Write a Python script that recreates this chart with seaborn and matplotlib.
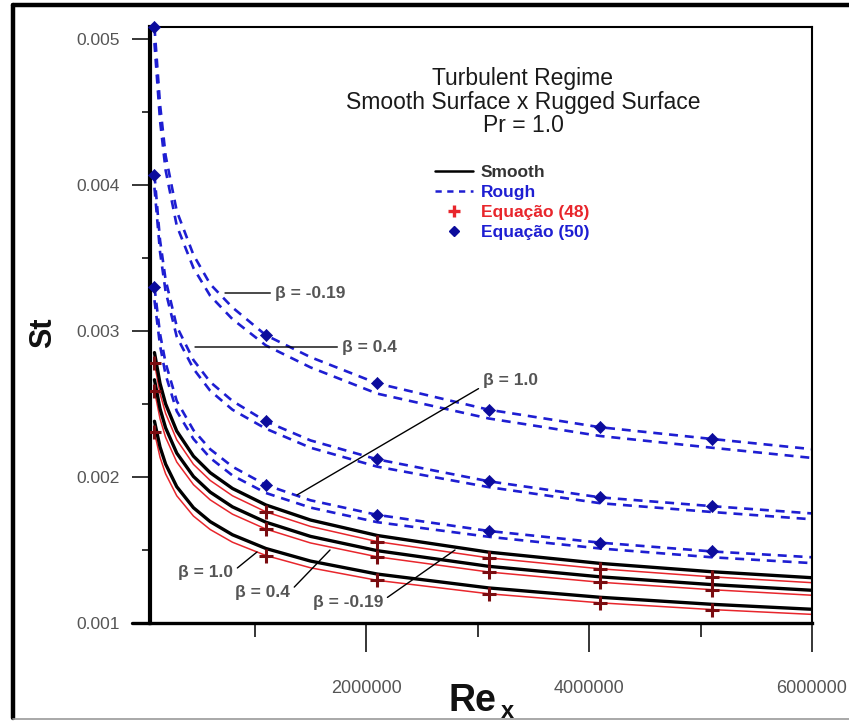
import matplotlib
matplotlib.use("Agg")
import matplotlib.pyplot as plt
import seaborn as sns
import pandas as pd
from matplotlib.lines import Line2D
from matplotlib.ticker import FixedLocator, FuncFormatter

# ---------------- data ----------------
re_x = [100000, 150000, 200000, 300000, 450000, 600000, 800000,
        1100000, 1500000, 2100000, 3100000, 4100000, 5100000, 6000000]
mark_idx = [0, 7, 9, 10, 11, 12]   # points carrying the equation markers

# rough surface (dashed blue), two curves per beta; "_eq" carries Eq.(50) diamonds
rough_m019_eq = [0.00508, 0.00455, 0.00420, 0.00382, 0.00352, 0.00332, 0.00316,
                 0.00297, 0.00282, 0.00264, 0.00246, 0.00234, 0.00226, 0.00219]
rough_m019 = [0.00497, 0.00444, 0.00410, 0.00372, 0.00343, 0.00324, 0.00308,
              0.00290, 0.00275, 0.00257, 0.00240, 0.00228, 0.00220, 0.00213]
rough_04_eq = [0.00407, 0.00362, 0.00335, 0.00303, 0.00280, 0.00265, 0.00252,
               0.00238, 0.00225, 0.00212, 0.00197, 0.00186, 0.00180, 0.00175]
rough_04 = [0.00398, 0.00354, 0.00327, 0.00296, 0.00274, 0.00259, 0.00246,
            0.00233, 0.00220, 0.00207, 0.00193, 0.00182, 0.00176, 0.00171]
rough_10_eq = [0.00330, 0.00298, 0.00278, 0.00252, 0.00232, 0.00219, 0.00207,
               0.001945, 0.00184, 0.00174, 0.00163, 0.00155, 0.00149, 0.00145]
rough_10 = [0.00321, 0.00290, 0.00270, 0.00245, 0.00226, 0.00213, 0.00201,
            0.00189, 0.00179, 0.00169, 0.00159, 0.00151, 0.00145, 0.00141]

# smooth surface (solid black) and Eq.(48) (thin red with + markers)
smooth_m019 = [0.002851, 0.002640, 0.002500, 0.002314, 0.002142, 0.002029, 0.001921,
               0.001808, 0.001705, 0.001599, 0.001485, 0.001408, 0.001351, 0.001310]
eq48_m019 = [0.002777, 0.002571, 0.002435, 0.002254, 0.002086, 0.001976, 0.001871,
             0.001761, 0.001661, 0.001557, 0.001446, 0.001371, 0.001316, 0.001276]
smooth_04 = [0.002665, 0.002467, 0.002336, 0.002163, 0.002003, 0.001896, 0.001795,
             0.001690, 0.001593, 0.001495, 0.001388, 0.001316, 0.001263, 0.001224]
eq48_04 = [0.002590, 0.002398, 0.002271, 0.002102, 0.001947, 0.001843, 0.001745,
           0.001643, 0.001548, 0.001453, 0.001349, 0.001279, 0.001228, 0.001190]
smooth_10 = [0.002381, 0.002205, 0.002088, 0.001933, 0.001789, 0.001694, 0.001604,
             0.001510, 0.001424, 0.001335, 0.001240, 0.001176, 0.001128, 0.001094]
eq48_10 = [0.002305, 0.002134, 0.002021, 0.001871, 0.001732, 0.001640, 0.001553,
           0.001462, 0.001378, 0.001292, 0.001200, 0.001138, 0.001092, 0.001059]

x_major = [2000000, 4000000, 6000000]
x_minor = [1000000, 3000000, 5000000]
y_major = [0.001, 0.002, 0.003, 0.004, 0.005]
y_minor = [0.0015, 0.0025, 0.0035, 0.0045]

title_lines = ["Turbulent Regime", "Smooth Surface x Rugged Surface", "Pr = 1.0"]
legend_labels = ["Smooth", "Rough", "Equação (48)", "Equação (50)"]

# ---------------- style ----------------
sns.set_style("white")
plt.rcParams['font.family'] = ['Liberation Sans', 'DejaVu Sans']

BLUE = '#1e1ed2'
DBLUE = '#0c0c9c'
RED = '#e8262c'
DRED = '#7a0c10'
GRAY = '#555555'

W, H = 849, 723
fig = plt.figure(figsize=(W / 100, H / 100), dpi=100)
ax_l, ax_r, ax_t, ax_b = 150, 812, 27, 623
ax = fig.add_axes([ax_l / W, 1 - ax_b / H, (ax_r - ax_l) / W, (ax_b - ax_t) / H])

def mk(vals, idx):
    return [re_x[i] for i in idx], [vals[i] for i in idx]

# rough curves
for eq_vals, r_vals in [(rough_m019_eq, rough_m019), (rough_04_eq, rough_04), (rough_10_eq, rough_10)]:
    for vals in (eq_vals, r_vals):
        sns.lineplot(x=re_x, y=vals, ax=ax, color=BLUE, lw=1.9, errorbar=None)
        ax.lines[-1].set_dashes([3.4, 2.6])
    xs, ys = mk(eq_vals, mark_idx)
    sns.scatterplot(x=xs, y=ys, ax=ax, marker='D', s=38, color=DBLUE,
                    edgecolor=DBLUE, zorder=5, clip_on=False)

# smooth curves
for s_vals, e_vals in [(smooth_m019, eq48_m019), (smooth_04, eq48_04), (smooth_10, eq48_10)]:
    sns.lineplot(x=re_x, y=e_vals, ax=ax, color=RED, lw=1.1, errorbar=None)
    sns.lineplot(x=re_x, y=s_vals, ax=ax, color='black', lw=2.4, errorbar=None)
    xs, ys = mk(e_vals, mark_idx)
    sns.scatterplot(x=xs, y=ys, ax=ax, marker='+', s=110, color=DRED,
                    linewidth=2.2, zorder=6)

ax.set_xlim(60000, 6000000)
ax.set_ylim(0.001, 0.00508)

# axes decoration
for side in ['top', 'right']:
    ax.spines[side].set_linewidth(1.5)
    ax.spines[side].set_color('black')
ax.spines['left'].set_linewidth(3.0)
ax.spines['bottom'].set_linewidth(2.4)
ax.spines['left'].set_color('black')
ax.spines['bottom'].set_color('black')

ax.xaxis.set_major_locator(FixedLocator(x_major))
ax.xaxis.set_minor_locator(FixedLocator(x_minor))
ax.yaxis.set_major_locator(FixedLocator(y_major))
ax.yaxis.set_minor_locator(FixedLocator(y_minor))
ax.xaxis.set_major_formatter(FuncFormatter(lambda v, p: f"{int(round(v))}"))
ax.yaxis.set_major_formatter(FuncFormatter(lambda v, p: f"{v:.3f}"))
ax.tick_params(axis='x', which='major', direction='out', length=21, width=1.1,
               pad=20, labelsize=13, labelcolor=GRAY, color='black', bottom=True)
ax.tick_params(axis='x', which='minor', direction='out', length=10, width=1.1,
               color='black', bottom=True)
ax.tick_params(axis='y', which='major', direction='out', length=13, width=1.1,
               pad=9, labelsize=12.5, labelcolor=GRAY, color='black', left=True)
ax.tick_params(axis='y', which='minor', direction='out', length=6, width=1.1,
               color='black', left=True)
ax.set_xlabel("")
ax.set_ylabel("")

# axis titles
fig.text(43 / W, 1 - 333 / H, "St", rotation=90, fontsize=22, fontweight='bold',
         ha='center', va='center', color='#111111')
fig.text(472 / W, 1 - 701 / H, "Re", fontsize=27, fontweight='bold',
         ha='center', va='center', color='#111111')
fig.text(507 / W, 1 - 712 / H, "x", fontsize=17, fontweight='bold',
         ha='center', va='center', color='#111111')

# title block
for i, line in enumerate(title_lines):
    fig.text(523 / W, 1 - (79 + 23 * i) / H, line, fontsize=16.5,
             ha='center', va='center', color='#1a1a1a')

# legend
handles = [
    Line2D([], [], color='black', lw=1.8),
    Line2D([], [], color=BLUE, lw=1.8, dashes=[2.5, 2.2]),
    Line2D([], [], color=RED, lw=0, marker='+', markersize=9, markeredgewidth=2.4),
    Line2D([], [], color=DBLUE, lw=0, marker='D', markersize=5.5),
]
leg_x = (435 - ax_l) / (ax_r - ax_l)
leg_y = 1 - (165 - ax_t) / (ax_b - ax_t)
leg = ax.legend(handles, legend_labels, loc='upper left', bbox_to_anchor=(leg_x, leg_y),
                frameon=False, borderpad=0, borderaxespad=0, handlelength=2.2,
                handletextpad=0.45, labelspacing=0.28,
                prop={'weight': 'bold', 'size': 12.5})
for t, c in zip(leg.get_texts(), ['#333333', BLUE, RED, BLUE]):
    t.set_color(c)

# beta annotations
def px2data(px, py):
    x = 60000 + (px - ax_l) / (ax_r - ax_l) * (6000000 - 60000)
    y = 0.001 + (ax_b - py) / (ax_b - ax_t) * (0.00508 - 0.001)
    return x, y

ann = [
    ("β = -0.19", (225, 293), (275, 293), 'left', (0, 0.5)),
    ("β = 0.4", (195, 347), (342, 347), 'left', (0, 0.5)),
    ("β = 1.0", (297, 495), (483, 380), 'left', (0, 0.1)),
    ("β = 1.0", (257, 552), (233, 573), 'right', (1, 0.6)),
    ("β = 0.4", (330, 550), (290, 593), 'right', (1, 0.6)),
    ("β = -0.19", (455, 550), (383, 602), 'right', (1, 0.6)),
]
for txt, p_end, p_txt, ha, rel in ann:
    ax.annotate(txt, xy=px2data(*p_end), xytext=px2data(*p_txt), ha=ha, va='center',
                fontsize=12.5, fontweight='bold', color=GRAY,
                arrowprops=dict(arrowstyle='-', color='black', lw=1.0,
                                shrinkA=1, shrinkB=0, relpos=rel))

# outer frame and spine extension
fig.add_artist(Line2D([13 / W, 13 / W], [1 - 5 / H, 1 - 718 / H], color='black', lw=3.2))
fig.add_artist(Line2D([13 / W, 1.0], [1 - 5 / H, 1 - 5 / H], color='black', lw=3.2))
fig.add_artist(Line2D([13 / W, 1.0], [1 - 719 / H, 1 - 719 / H], color='#9a9a9a', lw=1.2))
fig.add_artist(Line2D([132 / W, ax_l / W], [1 - ax_b / H, 1 - ax_b / H], color='black', lw=2.4))

fig.savefig("out.png", dpi=100)
